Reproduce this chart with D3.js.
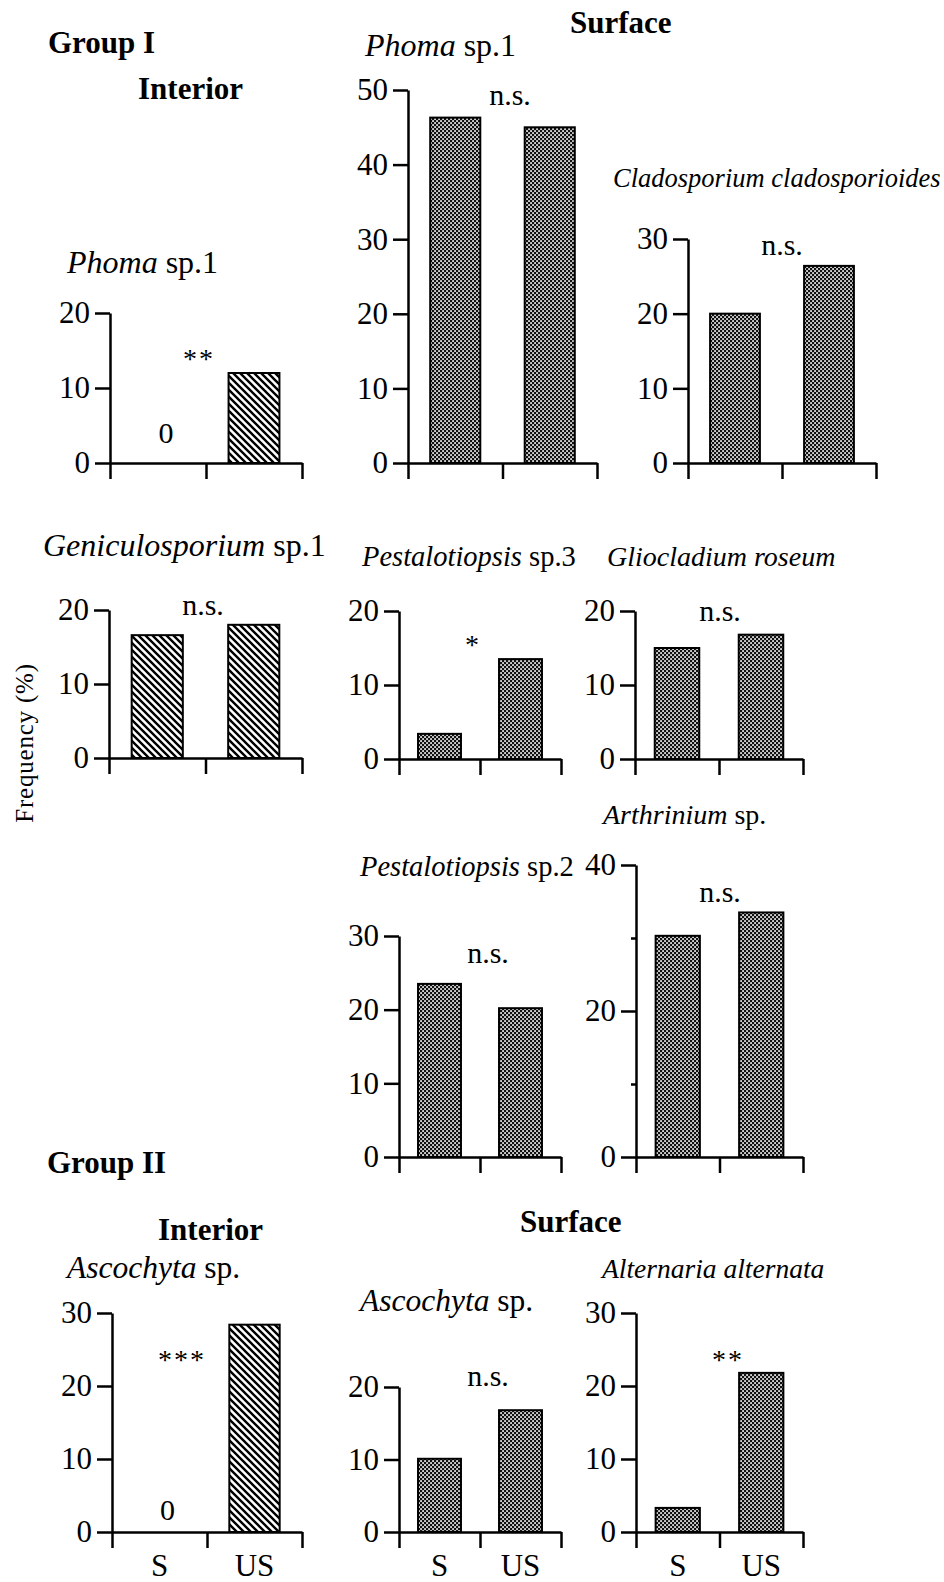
<!DOCTYPE html>
<html>
<head>
<meta charset="utf-8">
<script src="https://cdn.jsdelivr.net/npm/d3@7"></script>
<style>
  body { margin: 0; background: #fff; }
  svg text { font-family: "Liberation Serif", "Times New Roman", serif; fill: #000; }
  .axis path, .axis line { stroke: #000; stroke-width: 2.5; }
  .axis text { font-size: 31px; font-family: "Liberation Serif", serif; }
  .head { font-weight: bold; font-size: 31px; }
</style>
</head>
<body>
<div id="chart"></div>
<script>
// Categories: sterilised (S) vs unsterilised (US)
var groups = ["S", "US"];

// Species titles (italic part, roman part)
var names = [
  ["Phoma", " sp.1"],
  ["Phoma", " sp.1"],
  ["Cladosporium cladosporioides", ""],
  ["Geniculosporium", " sp.1"],
  ["Pestalotiopsis", " sp.3"],
  ["Gliocladium roseum", ""],
  ["Pestalotiopsis", " sp.2"],
  ["Arthrinium", " sp."],
  ["Ascochyta", " sp."],
  ["Ascochyta", " sp."],
  ["Alternaria alternata", ""]
];

// Frequency (%) for S and US, one pair per panel
var freqS  = [0, 46.3, 20.0, 16.6, 3.4, 15.0, 23.5, 30.3, 0, 10.1, 3.3];
var freqUS = [12, 45.0, 26.4, 18.0, 13.5, 16.8, 20.2, 33.5, 28.4, 16.8, 21.8];

// significance marks
var signif = ["**", "n.s.", "n.s.", "n.s.", "*", "n.s.", "n.s.", "n.s.", "***", "n.s.", "**"];

// y-axis tick labels per panel
var yTicks = [
  [0, 10, 20],
  [0, 10, 20, 30, 40, 50],
  [0, 10, 20, 30],
  [0, 10, 20],
  [0, 10, 20],
  [0, 10, 20],
  [0, 10, 20, 30],
  [0, 20, 40],
  [0, 10, 20, 30],
  [0, 10, 20],
  [0, 10, 20, 30]
];
var minorTicks = [[], [], [], [], [], [], [], [10, 30], [], [], []];

// interior (hatched) or surface (stippled)
var kind = ["in", "sf", "sf", "in", "sf", "sf", "sf", "sf", "in", "sf", "sf"];

// layout of each panel: axis extent in px, zero line, top of axis, where text sits
var layout = [
  {x0: 110, x1: 302, y0: 463,  top: 313,  tx: 67,  ty: 273,  ts: 32,   sx: 199, sAt: 15,   zero: 20},
  {x0: 408, x1: 597, y0: 463,  top: 90,   tx: 365, ty: 56,   ts: 32,   sx: 510, sAt: 49},
  {x0: 688, x1: 876, y0: 463,  top: 239,  tx: 613, ty: 187,  ts: 26.5, sx: 782, sAt: 28.9},
  {x0: 109, x1: 302, y0: 758,  top: 610,  tx: 43,  ty: 556,  ts: 32,   sx: 203, sAt: 20.4},
  {x0: 399, x1: 561, y0: 759,  top: 611,  tx: 362, ty: 566,  ts: 28.5, sx: 473, sAt: 16.5},
  {x0: 635, x1: 803, y0: 759,  top: 611,  tx: 607, ty: 566,  ts: 28,   sx: 720, sAt: 19.6},
  {x0: 399, x1: 561, y0: 1157, top: 936,  tx: 360, ty: 876,  ts: 28.5, sx: 488, sAt: 27.4},
  {x0: 636, x1: 803, y0: 1157, top: 865,  tx: 603, ty: 824,  ts: 28,   sx: 720, sAt: 35.9},
  {x0: 112, x1: 302, y0: 1532, top: 1313, tx: 67,  ty: 1278, ts: 31.5, sx: 182, sAt: 24.7, zero: 12, xlab: true},
  {x0: 399, x1: 561, y0: 1532, top: 1387, tx: 360, ty: 1311, ts: 31.5, sx: 488, sAt: 21.2, xlab: true},
  {x0: 636, x1: 803, y0: 1532, top: 1313, tx: 602, ty: 1278, ts: 27.5, sx: 728, sAt: 24.7, xlab: true}
];

var headings = [
  {t: "Group I",  x: 48,  y: 53},
  {t: "Interior", x: 138, y: 99},
  {t: "Surface",  x: 570, y: 33},
  {t: "Group II", x: 47,  y: 1173},
  {t: "Interior", x: 158, y: 1240},
  {t: "Surface",  x: 520, y: 1232}
];

var width = 944, height = 1582;

var svg = d3.select("#chart").append("svg")
    .attr("width", width)
    .attr("height", height);

svg.append("rect").attr("width", width).attr("height", height).attr("fill", "#fff");

// fill patterns
var defs = svg.append("defs");
var hatch = defs.append("pattern")
    .attr("id", "hatch")
    .attr("patternUnits", "userSpaceOnUse")
    .attr("width", 7).attr("height", 7);
hatch.append("rect").attr("width", 7).attr("height", 7).attr("fill", "#fff");
hatch.append("path")
    .attr("d", "M-1,-1 L8,8 M-1,6 L1,8 M6,-1 L8,1")
    .attr("stroke", "#000").attr("stroke-width", 2.4);

var dots = defs.append("pattern")
    .attr("id", "dots")
    .attr("patternUnits", "userSpaceOnUse")
    .attr("width", 4).attr("height", 4);
dots.append("rect").attr("width", 4).attr("height", 4).attr("fill", "#111");
dots.append("rect").attr("x", 0.2).attr("y", 0.2).attr("width", 1.7).attr("height", 1.7).attr("fill", "#fff");
dots.append("rect").attr("x", 2.2).attr("y", 2.2).attr("width", 1.7).attr("height", 1.7).attr("fill", "#fff");

// headings
svg.selectAll("text.head")
    .data(headings)
    .enter().append("text")
    .attr("class", "head")
    .attr("x", function(d) { return d.x; })
    .attr("y", function(d) { return d.y; })
    .text(function(d) { return d.t; });

// y label
svg.append("text")
    .attr("transform", "translate(33,743) rotate(-90)")
    .attr("text-anchor", "middle")
    .style("font-size", "25px")
    .style("letter-spacing", "0.8px")
    .text("Frequency (%)");

layout.forEach(function(L, i) {
  var g = svg.append("g");
  var ymax = d3.max(yTicks[i]);

  var y = d3.scaleLinear().domain([0, ymax]).range([L.y0, L.top]);
  var xb = d3.scaleBand().domain(groups).range([L.x0, L.x1]).paddingInner(0.47).paddingOuter(0.235);
  var xt = d3.scaleLinear().domain([0, 2]).range([L.x0, L.x1]);

  // x axis: line with three downward ticks
  g.append("g")
      .attr("class", "axis")
      .attr("transform", "translate(0," + L.y0 + ")")
      .call(d3.axisBottom(xt).tickValues([0, 1, 2]).tickSizeInner(16).tickSizeOuter(0).tickFormat(""));

  // y axis
  g.append("g")
      .attr("class", "axis")
      .attr("transform", "translate(" + L.x0 + ",0)")
      .call(d3.axisLeft(y).tickValues(yTicks[i]).tickSizeInner(15).tickSizeOuter(0).tickPadding(5));

  if (minorTicks[i].length) {
    g.append("g")
        .attr("class", "axis")
        .attr("transform", "translate(" + L.x0 + ",0)")
        .call(d3.axisLeft(y).tickValues(minorTicks[i]).tickSizeInner(5).tickSizeOuter(0).tickFormat(""))
        .select(".domain").remove();
  }

  // bars
  var vals = [freqS[i], freqUS[i]];
  g.selectAll("rect.bar")
      .data(groups.filter(function(c, j) { return vals[j] > 0; }))
      .enter().append("rect")
      .attr("class", "bar")
      .attr("x", function(c) { return xb(c); })
      .attr("width", xb.bandwidth())
      .attr("y", function(c) { return y(vals[groups.indexOf(c)]); })
      .attr("height", function(c) { return L.y0 - y(vals[groups.indexOf(c)]); })
      .attr("fill", kind[i] === "in" ? "url(#hatch)" : "url(#dots)")
      .attr("stroke", "#000")
      .attr("stroke-width", 2);

  // "0" label for empty bars
  vals.forEach(function(v, j) {
    if (v === 0) {
      g.append("text")
          .attr("x", xb(groups[j]) + xb.bandwidth() / 2 + 8)
          .attr("y", L.y0 - L.zero)
          .attr("text-anchor", "middle")
          .style("font-size", "30px")
          .text("0");
    }
  });

  // significance
  var star = signif[i].indexOf("*") === 0;
  g.append("text")
      .attr("x", L.sx)
      .attr("y", y(L.sAt))
      .attr("dy", star ? "0.62em" : "0.25em")
      .attr("text-anchor", "middle")
      .style("font-size", star ? "28px" : "30px")
      .style("letter-spacing", star ? "2px" : "0px")
      .text(signif[i]);

  // title
  var t = g.append("text")
      .attr("x", L.tx)
      .attr("y", L.ty)
      .style("font-size", L.ts + "px");
  t.append("tspan").style("font-style", "italic").text(names[i][0]);
  if (names[i][1]) t.append("tspan").text(names[i][1]);

  // category labels
  if (L.xlab) {
    g.selectAll("text.cat")
        .data(groups)
        .enter().append("text")
        .attr("class", "cat")
        .attr("x", function(c) { return xb(c) + xb.bandwidth() / 2; })
        .attr("y", 1576)
        .attr("text-anchor", "middle")
        .style("font-size", "31px")
        .text(function(c) { return c; });
  }
});
</script>
</body>
</html>
